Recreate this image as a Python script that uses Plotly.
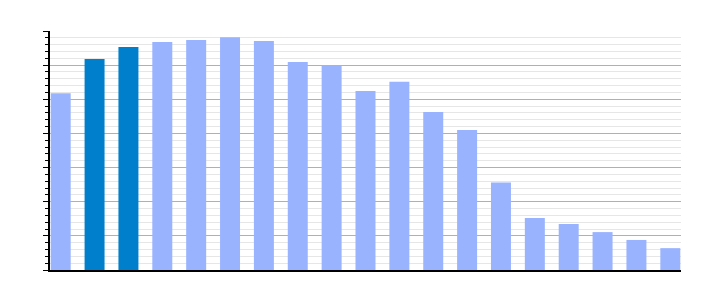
import plotly.graph_objects as go

categories = list(range(19))
values = [51.8, 61.8, 65.3, 66.8, 67.4, 68.2, 67.1, 60.9, 60.0, 52.4, 55.1,
          46.3, 41.0, 25.6, 15.2, 13.5, 11.1, 8.8, 6.4]
highlight = [1, 2]

light = "#99b3ff"
dark = "#0080cc"
colors = [dark if i in highlight else light for i in categories]

fig = go.Figure(go.Bar(x=categories, y=values, marker=dict(color=colors, line=dict(width=0)),
                       width=0.59))

fig.update_layout(
    width=710, height=300,
    margin=dict(l=50, r=29, t=31, b=30),
    paper_bgcolor="white", plot_bgcolor="white",
    showlegend=False,
    bargap=0.4,
)
fig.update_xaxes(range=[-0.316, 18.316], showgrid=False, zeroline=False,
                 showline=True, linecolor="black", linewidth=2,
                 showticklabels=False, ticks="")
fig.update_yaxes(range=[0, 70], dtick=10, showgrid=True, gridcolor="#b0b0b0", gridwidth=1,
                 zeroline=False, showline=True, linecolor="black", linewidth=2,
                 ticks="outside", ticklen=5, tickcolor="black", tickwidth=1,
                 showticklabels=False,
                 minor=dict(dtick=2, showgrid=True, gridcolor="#e6e6e6", gridwidth=1,
                            ticks="outside", ticklen=3, tickcolor="black", tickwidth=1))

fig.write_html("out.html")
